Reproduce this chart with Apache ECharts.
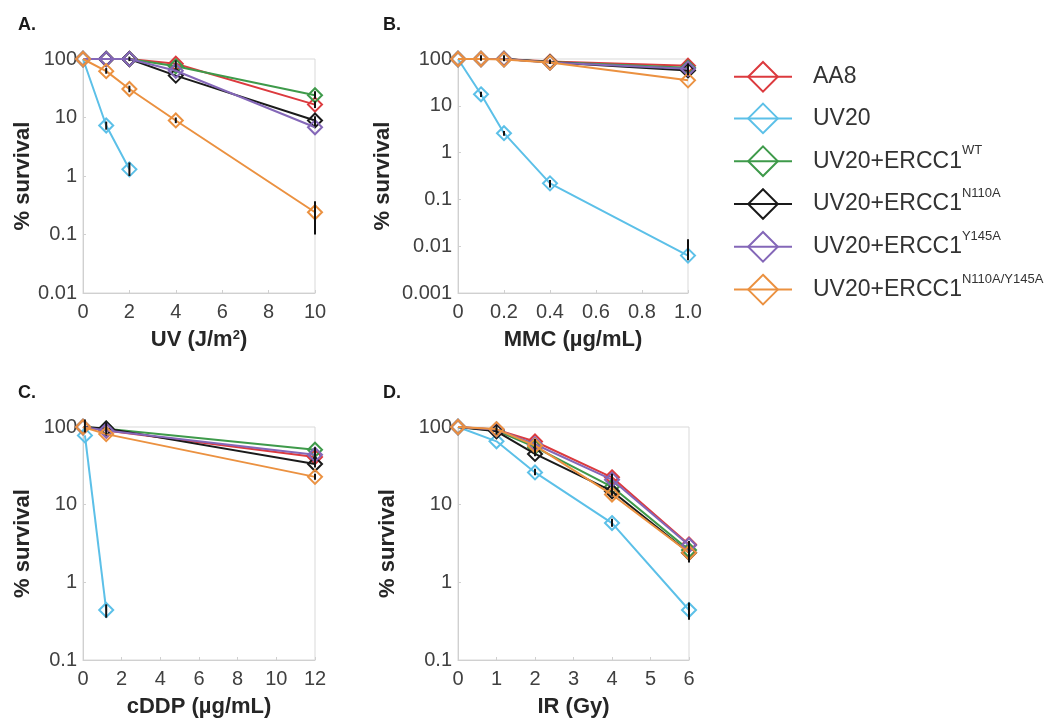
<!DOCTYPE html>
<html>
<head>
<meta charset="utf-8">
<script src="https://cdn.jsdelivr.net/npm/echarts@6/dist/echarts.min.js"></script>
<style>
  html, body { margin: 0; padding: 0; background: #fff; }
  #chart { width: 1054px; height: 719px; }
</style>
</head>
<body>
<div id="chart"></div>
<script>
// series names and colours
var names = ['AA8', 'UV20', 'WT', 'N110A', 'Y145A', 'N110A/Y145A'];
var colors = ['#dc3a3e', '#5cc0e8', '#3e9a4a', '#1a1a1a', '#8467b8', '#eb9140'];

// A. UV
var uvDose = [0, 1, 2, 4, 10];
var uvAA8 = [100, 100, 100, 83, 16.6];
var uvUV20 = [100, 7.3, 1.3, null, null];
var uvWT = [100, 100, 100, 75, 24];
var uvN110A = [100, 100, 100, 52, 8.9];
var uvY145A = [100, 100, 100, 63, 6.8];
var uvDouble = [100, 62, 30.7, 8.9, 0.24];
var uvErr = [[1, 6.2, 8.5], [2, 1.0, 1.7], [1, 56, 70], [2, 27, 35], [4, 8, 10], [4, 70, 95],
  [10, 0.1, 0.37], [10, 7, 10.5], [10, 21, 28], [10, 14.5, 19], [2, 92, 110]];

// B. MMC
var mmcDose = [0, 0.1, 0.2, 0.4, 1.0];
var mmcAA8 = [100, 100, 100, 88, 72];
var mmcUV20 = [100, 17.6, 2.6, 0.22, 0.0063];
var mmcWT = [100, 100, 100, 86, 65];
var mmcN110A = [100, 100, 100, 85, 57];
var mmcY145A = [100, 100, 100, 84, 62];
var mmcDouble = [100, 100, 98, 84, 35];
var mmcErr = [[1.0, 0.005, 0.014], [0.4, 0.18, 0.26], [0.2, 2.3, 2.9], [0.1, 15.5, 20],
  [1.0, 45, 80], [0.1, 92, 120], [0.2, 90, 120], [0.4, 78, 98]];

// C. cDDP
var cddpDose = [0, 0.1, 1.2, 12];
var cddpAA8 = [100, null, 90, 41];
var cddpUV20 = [null, 78, 0.44, null];
var cddpWT = [100, null, 95, 51];
var cddpN110A = [100, null, 96, 33.4];
var cddpY145A = [100, null, 90, 44];
var cddpDouble = [100, null, 81, 22.8];
var cddpErr = [[1.2, 0.35, 0.52], [0.1, 85, 125], [1.2, 80, 115], [12, 30, 55], [12, 21, 25]];

// D. IR
var irDose = [0, 1, 2, 4, 6];
var irAA8 = [100, 92, 65, 22.5, 3.07];
var irUV20 = [100, 65.4, 26, 5.8, 0.44];
var irWT = [100, 90, 55, 17, 2.6];
var irN110A = [100, 88, 45, 14.9, 2.4];
var irY145A = [100, 93, 60, 21, 3.0];
var irDouble = [100, 94, 57.5, 13.5, 2.4];
var irErr = [[6, 0.33, 0.55], [4, 5.2, 6.6], [2, 24, 29], [6, 1.8, 3.4], [4, 13, 25], [2, 42, 70], [1, 80, 105]];

var panels = [
  { dose: uvDose, vals: [uvAA8, uvUV20, uvWT, uvN110A, uvY145A, uvDouble], err: uvErr },
  { dose: mmcDose, vals: [mmcAA8, mmcUV20, mmcWT, mmcN110A, mmcY145A, mmcDouble], err: mmcErr },
  { dose: cddpDose, vals: [cddpAA8, cddpUV20, cddpWT, cddpN110A, cddpY145A, cddpDouble], err: cddpErr },
  { dose: irDose, vals: [irAA8, irUV20, irWT, irN110A, irY145A, irDouble], err: irErr }
];

var font = 'Liberation Sans, Arial, sans-serif';
var labelStyle = { fontFamily: font, fontSize: 20, color: '#404040' };
var nameStyle = { fontFamily: font, fontSize: 22, fontWeight: 'bold', color: '#262626' };

var grids = [
  { left: 83, top: 59, width: 232, height: 234 },
  { left: 458, top: 59, width: 230, height: 234 },
  { left: 83, top: 427, width: 232, height: 234 },
  { left: 458, top: 427, width: 231, height: 234 }
];
grids.forEach(function (g) { g.show = true; g.borderColor = '#d9d9d9'; g.borderWidth = 1; });

var xNames = ['UV (J/m²)', 'MMC (µg/mL)', 'cDDP (µg/mL)', 'IR (Gy)'];
var xMax = [10, 1, 12, 6];
var xInt = [2, 0.2, 2, 1];
var yMin = [0.01, 0.001, 0.1, 0.1];
var yGap = [49, 64, 49, 59];

var xAxes = [], yAxes = [];
for (var i = 0; i < 4; i++) {
  xAxes.push({
    gridIndex: i, type: 'value', min: 0, max: xMax[i], interval: xInt[i],
    name: i === 0 ? '{n|UV (J/m}{s|2}{n|)}' : xNames[i],
    nameLocation: 'middle', nameGap: 36,
    nameTextStyle: i === 0 ? {
      rich: {
        n: nameStyle,
        s: { fontFamily: font, fontSize: 13, fontWeight: 'bold', color: '#262626', verticalAlign: 'top' }
      }
    } : nameStyle,
    axisLine: { lineStyle: { color: '#d0d0d0' } },
    axisTick: { inside: true, length: 3, lineStyle: { color: '#d0d0d0' } },
    splitLine: { show: false },
    axisLabel: Object.assign({ margin: 9 }, labelStyle)
  });
  yAxes.push({
    gridIndex: i, type: 'log', logBase: 10, min: yMin[i], max: 100,
    name: '% survival', nameLocation: 'middle', nameGap: yGap[i], nameTextStyle: nameStyle,
    axisLine: { lineStyle: { color: '#d0d0d0' } },
    axisTick: { inside: true, length: 3, lineStyle: { color: '#d0d0d0' } },
    splitLine: { show: false },
    axisLabel: Object.assign({
      margin: 6,
      formatter: function (v) { return v >= 1 ? String(Math.round(v)) : String(parseFloat(v.toPrecision(1))); }
    }, labelStyle)
  });
}
xAxes[1].axisLabel.formatter = function (v) { return v === 1 ? '1.0' : String(v); };

var series = [];
panels.forEach(function (p, pi) {
  p.vals.forEach(function (arr, si) {
    var pts = [];
    arr.forEach(function (v, k) { if (v !== null) pts.push([p.dose[k], v]); });
    series.push({
      name: names[si], type: 'line', xAxisIndex: pi, yAxisIndex: pi,
      data: pts, symbol: 'diamond', symbolSize: 14, z: 2 + si,
      lineStyle: { color: colors[si], width: 2 },
      itemStyle: { color: 'rgba(255,255,255,0)', borderColor: colors[si], borderWidth: 2 },
      emphasis: { disabled: true },
      animation: false
    });
  });
  series.push({
    type: 'custom', xAxisIndex: pi, yAxisIndex: pi, z: 20,
    data: p.err, encode: { x: 0, y: [1, 2] }, animation: false,
    renderItem: function (params, api) {
      var x = api.value(0);
      var a = api.coord([x, api.value(1)]);
      var b = api.coord([x, api.value(2)]);
      return {
        type: 'line',
        shape: { x1: a[0], y1: a[1], x2: b[0], y2: b[1] },
        style: { stroke: '#111', lineWidth: 2 }
      };
    }
  });
});

var legendText = {
  'AA8': '{b|AA8}',
  'UV20': '{b|UV20}',
  'WT': '{b|UV20+ERCC1}{s|WT}',
  'N110A': '{b|UV20+ERCC1}{s|N110A}',
  'Y145A': '{b|UV20+ERCC1}{s|Y145A}',
  'N110A/Y145A': '{b|UV20+ERCC1}{s|N110A/Y145A}'
};

var chartDom = document.getElementById('chart');
var myChart = echarts.init(chartDom);
var option = {
  animation: false,
  title: [
    { text: 'A.', left: 13, top: 11 },
    { text: 'B.', left: 378, top: 11 },
    { text: 'C.', left: 13, top: 379 },
    { text: 'D.', left: 378, top: 379 }
  ].map(function (t) {
    t.textStyle = { fontFamily: font, fontSize: 18, fontWeight: 'bold', color: '#1a1a1a' };
    return t;
  }),
  legend: {
    orient: 'vertical', left: 728, top: 56,
    itemWidth: 58, itemHeight: 37, itemGap: 10,
    data: names,
    formatter: function (n) { return legendText[n]; },
    textStyle: {
      padding: [0, 0, 0, 16],
      rich: {
        b: { fontFamily: font, fontSize: 23, lineHeight: 34, color: '#333' },
        s: { fontFamily: font, fontSize: 13, color: '#333', verticalAlign: 'top' }
      }
    },
    selectedMode: false
  },
  grid: grids,
  xAxis: xAxes,
  yAxis: yAxes,
  series: series
};
option && myChart.setOption(option);
</script>
</body>
</html>
